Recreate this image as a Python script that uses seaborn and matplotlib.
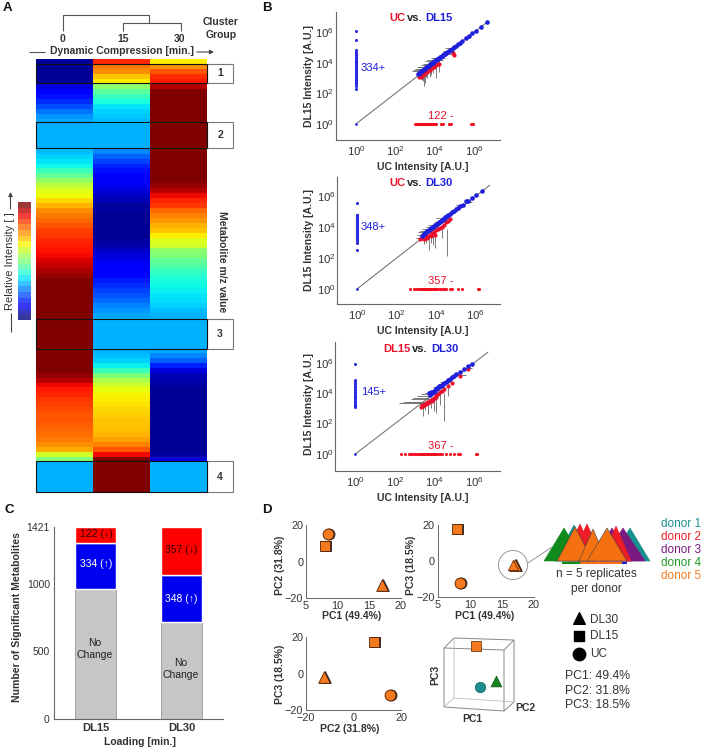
import numpy as np
import pandas as pd
import matplotlib
matplotlib.use('Agg')
import matplotlib.pyplot as plt
from matplotlib.patches import Circle, Polygon, Rectangle
import seaborn as sns

# heatmap values, one row every 5 px or so (jet scale 0-1)
heat_0 = [.02,.02,.02,.02,.02,.08,.11,.14,.17,.20,.24,.27,.29,.30,.30,.30,.30,.30,.31,.33,.35,.37,.42,.47,.53,.58,.62,.64,.68,.72,
          .76,.78,.80,.82,.84,.85,.87,.88,.89,.90,.92,.94,.96,.98,1,1,1,1,1,1,1,1,1,1,1,1,1,1,1,1,1,1,1,.98,.95,.90,.88,.87,.85,.84,
          .83,.82,.82,.81,.80,.79,.78,.76,.73,.60,.50,.30,.30,.30,.30,.30,.30]
heat_15 = [.87,.78,.76,.70,.66,.52,.46,.42,.38,.35,.33,.32,.31,.30,.30,.30,.30,.30,.26,.22,.19,.16,.14,.12,.11,.10,.08,.06,.05,.03,
           .03,.02,.02,.02,.02,.02,.03,.04,.06,.08,.10,.11,.12,.13,.15,.17,.19,.21,.23,.25,.27,.29,.30,.30,.30,.30,.30,.30,.30,.31,.33,.36,.42,.50,.56,.60,.63,.65,.66,.67,
           .68,.69,.70,.70,.71,.72,.74,.77,.82,.90,1,1,1,1,1,1,1]
heat_30 = [.66,.76,.82,.86,.88,.95,1,1,1,1,1,1,1,1,1,1,1,1,1,1,1,1,1,1,1,.98,.95,.90,.87,.85,
           .80,.77,.75,.72,.70,.66,.62,.60,.52,.50,.47,.45,.42,.40,.38,.37,.36,.35,.34,.33,.31,.30,.30,.30,.30,.30,.30,.30,.29,.26,.22,.16,.08,.05,.04,.03,.02,.02,.02,.02,
           .02,.02,.02,.02,.02,.02,.02,.02,.02,.03,.08,.30,.30,.30,.30,.30,.30]
heat_cols = ['0', '15', '30']
bar_steps = [0,.05,.1,.15,.2,.25,.3,.35,.4,.45,.5,.55,.6,.65,.7,.75,.8,.85,.9,.95,1]

# scatter panels, log10 units
p1_blue_x = [3.15,3.2,3.25,3.3,3.35,3.4,3.45,3.5,3.55,3.6,3.65,3.7,3.75,3.8,3.85,3.9,3.95,4.0,4.05,4.1,4.15,4.2,4.25,4.3,4.35,4.4,4.45,4.5,4.55,4.6,4.7,4.75,4.8,4.9,5.0,5.1,5.2,5.3,5.4,5.6,5.75,5.9,6.1,6.35,6.65]
p1_blue_y = [3.25,3.35,3.35,3.45,3.45,3.55,3.58,3.62,3.7,3.72,3.8,3.82,3.9,3.92,4.0,4.0,4.1,4.12,4.15,4.22,4.25,4.3,4.35,4.38,4.45,4.48,4.55,4.58,4.62,4.68,4.75,4.82,4.86,4.95,5.05,5.12,5.22,5.32,5.42,5.62,5.76,5.92,6.1,6.36,6.66]
p1_red_x = [3.2,3.3,3.4,3.45,3.5,3.6,3.7,3.75,3.85,3.95,4.05,4.15,4.2,4.9,5.0]
p1_red_y = [3.05,3.1,3.2,3.3,3.35,3.4,3.5,3.55,3.65,3.7,3.85,3.9,3.95,4.65,4.5]
p1_strip = [2.3,2.45,2.6,2.7,2.75,2.8,2.85,2.9,2.95,3.0,3.05,3.1,3.15,3.2,3.25,3.3,3.35,3.4,3.45,3.5,3.55,3.6,3.65,3.7,3.75,3.8,3.85,3.9,3.95,4.0,4.05,4.1,4.15,4.2,4.3,4.4,4.5,4.6,4.7,4.85,5.5,6.05]
p1_row = [3.0,3.05,3.1,3.15,3.2,3.25,3.3,3.35,3.4,3.45,3.5,3.55,3.6,3.65,3.7,3.75,3.8,3.85,3.9,3.95,4.0,4.05,4.3,4.4,4.7,4.8,5.85,5.95]
p1_h_x0 = [2.85,2.9,3.0,3.1,3.2,3.3,3.4,3.5,3.6,3.8,4.3,4.4,4.5]
p1_h_x1 = [3.4,3.5,3.6,3.7,3.9,4.0,4.1,4.2,4.4,4.5,4.9,5.0,5.0]
p1_h_y = [3.45,3.5,3.6,3.7,3.75,3.85,3.95,4.1,4.2,4.3,4.55,4.75,4.95]
p1_v_x = [3.35,3.4,3.45,3.5,3.55,3.6,3.75,3.8,3.9,4.05,4.2]
p1_v_y0 = [2.9,2.8,2.5,2.7,3.1,3.0,3.1,3.2,3.3,3.0,3.4]
p1_v_y1 = [3.4,3.3,3.5,3.6,3.6,3.7,3.8,3.8,3.9,3.9,4.2]

p2_blue_x = [3.3,3.35,3.4,3.45,3.5,3.55,3.6,3.65,3.7,3.75,3.8,3.85,3.9,3.95,4.0,4.05,4.1,4.15,4.2,4.25,4.3,4.35,4.4,4.45,4.5,4.55,4.6,4.7,4.8,4.9,5.0,5.1,5.2,5.35,5.5,5.6,5.8,6.0,6.3]
p2_blue_y = [3.4,3.5,3.55,3.6,3.65,3.72,3.75,3.82,3.85,3.92,3.95,4.0,4.05,4.12,4.15,4.2,4.28,4.32,4.35,4.42,4.45,4.52,4.55,4.62,4.65,4.7,4.75,4.85,4.95,5.05,5.15,5.2,5.35,5.45,5.65,5.7,5.9,6.05,6.35]
p2_red_x = [3.2,3.3,3.4,3.5,3.55,3.6,3.7,3.75,3.8,3.9,3.95,4.0,4.1,4.2,4.3,4.4,4.5,4.6,4.7]
p2_red_y = [3.25,3.3,3.2,3.4,3.3,3.45,3.5,3.4,3.6,3.7,3.5,3.8,3.85,3.95,4.0,4.1,4.3,4.4,4.5]
p2_strip = [2.5,3.0,3.1,3.2,3.25,3.3,3.35,3.4,3.45,3.5,3.55,3.6,3.65,3.7,3.75,3.8,3.85,3.9,3.95,4.0,4.05,4.1,4.15,4.2,4.25,4.3,4.35,4.4,4.45,4.5,4.55,4.6,4.65,4.7,4.75,4.8,5.55]
p2_row = [2.7,2.9,3.0,3.1,3.2,3.25,3.3,3.35,3.4,3.45,3.5,3.55,3.6,3.65,3.7,3.75,3.8,3.85,3.9,3.95,4.0,4.05,4.1,4.2,4.3,4.4,4.5,4.7,4.8,5.1,5.3,6.1,6.15]
p2_h_x0 = [3.0,3.05,3.1,3.2,3.3,3.5,3.6,3.9,4.0,5.0,5.5]
p2_h_x1 = [3.6,3.7,3.8,3.9,4.0,4.1,4.2,4.5,4.6,5.4,5.8]
p2_h_y = [3.3,3.5,3.65,3.75,3.9,4.0,4.1,4.35,4.6,5.4,5.6]
p2_v_x = [3.4,3.5,3.65,3.75,3.95,3.85,4.55,4.3]
p2_v_y0 = [2.9,3.0,2.5,3.0,2.65,2.85,2.1,3.3]
p2_v_y1 = [3.3,3.5,3.4,3.6,3.6,3.7,3.9,4.1]

p3_blue_x = [3.7,3.75,3.8,3.85,3.9,3.95,4.0,4.05,4.1,4.15,4.2,4.25,4.3,4.35,4.4,4.45,4.5,4.6,4.7,4.8,4.9,5.0,5.1,5.3,5.5,5.7,5.9]
p3_blue_y = [4.0,3.9,4.05,4.0,4.1,4.15,4.15,4.25,4.25,4.35,4.35,4.45,4.45,4.5,4.55,4.6,4.65,4.75,4.85,4.95,5.05,5.1,5.25,5.4,5.6,5.8,5.95]
p3_red_x = [3.3,3.35,3.4,3.45,3.5,3.55,3.6,3.65,3.7,3.75,3.8,3.85,3.9,3.95,4.0,4.05,4.1,4.2,4.3,4.4,4.5,4.7,4.9,5.3,5.7]
p3_red_y = [3.1,3.2,3.15,3.25,3.3,3.3,3.4,3.35,3.45,3.5,3.55,3.5,3.65,3.7,3.7,3.75,3.85,3.95,4.1,4.15,4.3,4.45,4.7,5.1,5.6]
p3_strip = [3.1,3.15,3.2,3.3,3.4,3.45,3.5,3.6,3.7,3.75,3.8,3.9,4.0,4.05,4.1,4.2,4.3,4.4,4.5,4.6,4.7,4.8,4.9,5.95]
p3_row = [2.3,2.5,2.7,2.8,2.9,3.0,3.1,3.2,3.25,3.3,3.35,3.4,3.45,3.5,3.55,3.6,3.65,3.7,3.75,3.8,3.85,3.9,3.95,4.0,4.1,4.2,4.3,4.4,4.6,4.8,5.0,5.2,5.3,6.1,6.15]
p3_h_x0 = [2.2,2.4,2.6,2.8,2.9,3.1,3.3,3.5,3.9,4.3,5.0,5.5]
p3_h_x1 = [3.4,3.5,3.6,3.7,3.7,3.8,4.0,4.1,4.5,4.9,5.6,5.9]
p3_h_y = [3.35,3.4,3.45,3.6,3.7,3.8,3.95,4.0,4.4,4.75,5.2,5.65]
p3_v_x = [3.4,3.5,3.65,3.8,3.95,4.05,4.5,4.3,4.7]
p3_v_y0 = [2.5,2.9,2.65,3.0,2.85,2.7,2.2,3.2,3.8]
p3_v_y1 = [3.4,3.4,3.5,3.7,3.7,3.9,4.0,4.2,4.8]

# stacked bars
loading = ['DL15', 'DL30']
no_change = [965, 716]
up_count = [334, 348]
down_count = [122, 357]

# PCA scores (UC, DL15, DL30)
pca_marks = ['o', 's', '^']
pc1 = [8.5, 8.0, 17.0]
pc2 = [15.0, 8.5, -13.0]
pc3 = [-12.0, 18.0, -2.0]
pc2_b = [15.5, 8.5, -12.5]
pc3_b = [-12.0, 17.0, -2.0]

donor_names = ['donor 1', 'donor 2', 'donor 3', 'donor 4', 'donor 5']
donor_cols = ['#1a8f8f', '#ee1c25', '#7b1a80', '#1f9a2a', '#f47a20']

W, H = 704, 750
sns.set_theme(style='white')
plt.rcParams['font.family'] = ['Liberation Sans', 'DejaVu Sans']
plt.rcParams['mathtext.fontset'] = 'custom'
plt.rcParams['mathtext.rm'] = 'Liberation Sans'
plt.rcParams['mathtext.default'] = 'regular'

fig = plt.figure(figsize=(W / 100, H / 100), dpi=100)


def px_axes(l, t, r, b):
    return fig.add_axes([l / W, 1 - b / H, (r - l) / W, (b - t) / H])


# A: heatmap
ax_h = px_axes(36, 59, 207.3, 492)
ax_cb = px_axes(18, 202, 31, 320)
heat_df = pd.DataFrame({'0': heat_0, '15': heat_15, '30': heat_30})
sns.heatmap(heat_df[heat_cols], cmap='jet', vmin=0, vmax=1, cbar=False, xticklabels=False, yticklabels=False, ax=ax_h)
sns.heatmap(np.array(bar_steps[::-1]).reshape(-1, 1), cmap='jet', vmin=0, vmax=1, cbar=False, alpha=0.78,
            xticklabels=False, yticklabels=False, ax=ax_cb)

ink = '#333333'
axis_col = '#666666'


# B: log-log scatter panels
def draw_scatter(box, xlim, ylim, blue_x, blue_y, red_x, red_y, strip, row, hx0, hx1, hy, vx, vy0, vy1):
    ax = px_axes(*box)
    ax.set_xscale('log')
    ax.set_yscale('log')
    ax.plot([1, 10 ** 6.7], [1, 10 ** 6.7], color='#666666', lw=0.7, zorder=1)
    ax.hlines(10.0 ** np.array(hy), 10.0 ** np.array(hx0), 10.0 ** np.array(hx1), color='#666666', lw=0.6, zorder=2)
    ax.vlines(10.0 ** np.array(vx), 10.0 ** np.array(vy0), 10.0 ** np.array(vy1), color='#666666', lw=0.6, zorder=2)
    sns.scatterplot(x=10.0 ** np.array(red_x), y=10.0 ** np.array(red_y), color='#e8102a', s=9, linewidth=0, ax=ax, zorder=3)
    sns.scatterplot(x=10.0 ** np.array(blue_x), y=10.0 ** np.array(blue_y), color='#1f1fdc', s=11, linewidth=0, ax=ax, zorder=4)
    sns.scatterplot(x=[1.0] * len(strip), y=10.0 ** np.array(strip), color='#2a2ae0', s=5, linewidth=0, ax=ax, zorder=4)
    sns.scatterplot(x=10.0 ** np.array(row), y=[1.0] * len(row), color='#f01020', s=5, linewidth=0, ax=ax, zorder=4)
    sns.scatterplot(x=[1.0], y=[1.0], color='#2a2ae0', s=4, linewidth=0, ax=ax, zorder=4)
    ax.set_xlim(10 ** xlim[0], 10 ** xlim[1])
    ax.set_ylim(10 ** ylim[0], 10 ** ylim[1])
    ax.set_xticks([1, 1e2, 1e4, 1e6])
    ax.set_yticks([1, 1e2, 1e4, 1e6])
    ax.set_xticklabels(['$10^{%d}$' % k for k in (0, 2, 4, 6)], fontsize=8.2, color=ink)
    ax.set_yticklabels(['$10^{%d}$' % k for k in (0, 2, 4, 6)], fontsize=8.2, color=ink)
    ax.minorticks_off()
    ax.tick_params(length=1.5, width=0.5, direction='in', color=axis_col, pad=1)
    ax.tick_params(axis='x', pad=3)
    sns.despine(ax=ax)
    for s in ['left', 'bottom']:
        ax.spines[s].set_color(axis_col)
        ax.spines[s].set_linewidth(0.8)


draw_scatter((335.7, 12, 500, 140), (-1.03, 7.31), (-1.05, 7.32), p1_blue_x, p1_blue_y, p1_red_x, p1_red_y, p1_strip, p1_row,
             p1_h_x0, p1_h_x1, p1_h_y, p1_v_x, p1_v_y0, p1_v_y1)
draw_scatter((337, 177, 500, 304), (-1.01, 7.22), (-0.97, 7.23), p2_blue_x, p2_blue_y, p2_red_x, p2_red_y, p2_strip, p2_row,
             p2_h_x0, p2_h_x1, p2_h_y, p2_v_x, p2_v_y0, p2_v_y1)
draw_scatter((335, 342, 500, 471), (-1.03, 7.31), (-1.12, 7.37), p3_blue_x, p3_blue_y, p3_red_x, p3_red_y, p3_strip, p3_row,
             p3_h_x0, p3_h_x1, p3_h_y, p3_v_x, p3_v_y0, p3_v_y1)

# C: stacked bars
ax_c = px_axes(54, 527, 223, 719)
bar_df = pd.DataFrame({'loading': loading, 'none': no_change, 'up': up_count, 'down': down_count})
sns.barplot(data=bar_df, x='loading', y='none', color='#c6c6c6', width=0.47, saturation=1, edgecolor='#888888', linewidth=0.5, ax=ax_c)
sns.barplot(data=bar_df, x='loading', y='up', bottom=bar_df['none'], color='#0000f0', width=0.47, saturation=1, ax=ax_c)
sns.barplot(data=bar_df, x='loading', y='down', bottom=bar_df['none'] + bar_df['up'], color='#ff0000', width=0.47, saturation=1, ax=ax_c)
ax_c.set_xlim(-0.48, 1.48)
ax_c.set_ylim(0, 1421)
ax_c.set_yticks([0, 500, 1000, 1421])
ax_c.set_xlabel('')
ax_c.set_ylabel('')
ax_c.tick_params(axis='y', labelsize=7.5, labelcolor=ink, length=2, width=0.6, color=axis_col, direction='in', pad=3)
ax_c.tick_params(axis='x', length=0, labelsize=8, pad=3)
for lab in ax_c.get_xticklabels():
    lab.set_fontweight('bold')
    lab.set_color(ink)
sns.despine(ax=ax_c)
for s in ['left', 'bottom']:
    ax_c.spines[s].set_color(axis_col)
    ax_c.spines[s].set_linewidth(0.8)


# D: PCA panels
def draw_pca(box, xs, ys, xlim, xticks):
    ax = px_axes(*box)
    for x, y, m in zip(xs, ys, pca_marks):
        size = {'o': 62, 's': 50, '^': 70}[m]
        sns.scatterplot(x=[x + 0.012 * (xlim[1] - xlim[0])], y=[y], marker=m, s=size, color='#3a1a50', edgecolor='#222222', linewidth=0.6, ax=ax, zorder=3, clip_on=False)
        sns.scatterplot(x=[x], y=[y], marker=m, s=size, color=donor_cols[4], edgecolor='#552200', linewidth=0.6, ax=ax, zorder=4, clip_on=False)
    ax.set_xlim(*xlim)
    ax.set_ylim(-20, 20)
    ax.set_xticks(xticks)
    ax.set_yticks([-20, 0, 20])
    ax.set_yticklabels(['\u221220', '0', '20'])
    if xticks[0] < 0:
        ax.set_xticklabels(['\u221220', '0', '20'])
    ax.tick_params(labelsize=7.8, labelcolor=ink, length=1.5, width=0.5, color=axis_col, direction='in', pad=2)
    sns.despine(ax=ax)
    for s in ['left', 'bottom']:
        ax.spines[s].set_color(axis_col)
        ax.spines[s].set_linewidth(0.7)
    return ax


draw_pca((306, 525, 400.6, 598), pc1, pc2, (5, 20), [5, 10, 15, 20])
draw_pca((437.7, 525, 534, 597), pc1, pc3, (5, 20), [5, 10, 15, 20])
draw_pca((306, 637, 401, 710), pc2_b, pc3_b, (-20, 20), [-20, 0, 20])

# overlay in pixel coords for labels and annotations
ov = fig.add_axes([0, 0, 1, 1], zorder=10)
ov.set_xlim(0, W)
ov.set_ylim(H, 0)
ov.axis('off')
ov.patch.set_alpha(0)


def txt(x, y, s, size=7.5, weight='normal', color=ink, ha='center', rot=0):
    ov.text(x, y, s, fontsize=size, fontweight=weight, color=color, ha=ha, va='center', rotation=rot, rotation_mode='anchor')


def line(xs, ys, col='#555555', lw=0.8):
    ov.plot(xs, ys, color=col, lw=lw, solid_capstyle='butt')


for s, x, y in [('A', 7, 8), ('B', 267, 8), ('C', 9, 510), ('D', 267, 510)]:
    txt(x, y, s, size=9.5, weight='bold', color='#111111')

# dendrogram
line([63, 63, 149, 149], [31, 15, 15, 22.7])
line([123, 123, 181, 181], [31, 22.7, 22.7, 31])
for s, x in [('0', 63), ('15', 123), ('30', 180)]:
    txt(x, 39, s, weight='bold')
txt(221, 22, 'Cluster', weight='bold')
txt(221, 35, 'Group', weight='bold')
txt(122, 51, 'Dynamic Compression [min.]', weight='bold')
line([29, 45], [52, 52])
ov.annotate('', xy=(214, 52), xytext=(197, 52), arrowprops=dict(arrowstyle='-|>', color='#444444', lw=0.8, mutation_scale=6, shrinkA=0, shrinkB=0))

# cluster boxes
for k, (t, b) in enumerate([(64, 83), (122, 148), (319, 349), (461, 492)]):
    ov.add_patch(Rectangle((207.3, t), 26, b - t, fill=False, ec='#777777', lw=0.8))
    ov.add_patch(Rectangle((36, t), 171.3, b - t, fill=False, ec='#111111', lw=0.8))
    txt(220, (t + b) / 2, str(k + 1), weight='bold')
txt(222, 262, 'Metabolite m/z value', size=7.5, weight='bold', rot=-90)
txt(10, 261, 'Relative Intensity [ ]', size=8, rot=90)
line([10.5, 10.5], [313, 332], col='#444444')
ov.annotate('', xy=(10.5, 192), xytext=(10.5, 209), arrowprops=dict(arrowstyle='-|>', color='#444444', lw=0.8, mutation_scale=6, shrinkA=0, shrinkB=0))

# B labels
red, blue = '#e8102a', '#1f1fdc'
for lead, y0, xs in [('UC', 18, (389, 407, 425)), ('UC', 183, (389, 407, 425)), ('DL15', 349, (383, 412, 431))]:
    tail = 'DL30' if y0 > 20 else 'DL15'
    txt(xs[0], y0, lead, size=8, weight='bold', color=red, ha='left')
    txt(xs[1], y0, 'vs.', size=8, weight='bold', color='#222222', ha='left')
    txt(xs[2], y0, tail, size=8, weight='bold', color=blue, ha='left')
for y_c, y_u, y_l, up, down, y_d in [(76, 167, 68, '334+', '122 -', 116), (240, 331, 227, '348+', '357 -', 281), (404, 498, 392, '145+', '367 -', 446)]:
    txt(309, y_c, 'DL15 Intensity [A.U.]', size=7.5, weight='bold', rot=90)
    txt(423, y_u, 'UC Intensity [A.U.]', size=7.5, weight='bold')
    txt(361, y_l, up, size=8, color=blue, ha='left')
    txt(428, y_d, down, size=8, color=red, ha='left')

# C labels
txt(17, 617, 'Number of Significant Metabolites', size=7.6, weight='bold', rot=90)
txt(140, 742, 'Loading [min.]', size=7.5, weight='bold')
txt(96, 534, '122 (\u2193)', size=7.5, color='#300000')
txt(96, 564, '334 (\u2191)', size=7.5, color='white')
txt(95, 643, 'No', size=7.5, color='#222222')
txt(95, 655, 'Change', size=7.5, color='#222222')
txt(181, 550, '357 (\u2193)', size=7.5, color='#300000')
txt(181, 599, '348 (\u2191)', size=7.5, color='white')
txt(181, 663, 'No', size=7.5, color='#222222')
txt(181, 675, 'Change', size=7.5, color='#222222')

# D labels
txt(352, 616, 'PC1 (49.4%)', size=7.5, weight='bold')
txt(485, 616, 'PC1 (49.4%)', size=7.5, weight='bold')
txt(350, 729, 'PC2 (31.8%)', size=7.5, weight='bold')
txt(280, 565, 'PC2 (31.8%)', size=7.5, weight='bold', rot=90)
txt(411, 565, 'PC3 (18.5%)', size=7.5, weight='bold', rot=90)
txt(280, 674, 'PC3 (18.5%)', size=7.5, weight='bold', rot=90)

# 3D box
cube_col = '#888888'
line([444, 454, 514, 504, 444], [648, 638, 640, 650, 648], cube_col, 0.7)
line([444, 444, 504, 504], [648, 707, 711, 650], cube_col, 0.7)
line([504, 514, 514], [711, 702, 640], cube_col, 0.7)
line([454, 454, 514], [638, 698, 702], '#bbbbbb', 0.6)
line([444, 454], [707, 698], '#bbbbbb', 0.6)
ov.scatter([476], [646], marker='s', s=42, color=donor_cols[4], edgecolor='#552200', linewidth=0.5, zorder=5)
ov.scatter([480], [687], marker='o', s=55, color=donor_cols[0], edgecolor='#0d5050', linewidth=0.5, zorder=5)
ov.scatter([496], [681], marker='^', s=60, color='#14861f', edgecolor='#0d5010', linewidth=0.5, zorder=5)
txt(435, 675, 'PC3', size=7.5, weight='bold', rot=90)
txt(472, 719, 'PC1', size=7.5, weight='bold')
txt(525, 708, 'PC2', size=7.5, weight='bold')

# callout and stacked replicates
ov.add_patch(Circle((513, 565), 14.5, fill=False, ec='#888888', lw=0.6))
line([528, 552], [563, 547], '#888888', 0.6)
tri_apex_x = [574, 630, 623, 612, 580, 587, 616, 564, 575, 593, 607]
tri_apex_y = [525, 528, 528, 528, 524, 524, 526, 528, 527, 529, 528]
tri_half = [20, 20, 22, 20, 17, 17, 15, 20, 18, 14, 20]
tri_fill = [donor_cols[0], donor_cols[0], donor_cols[2], donor_cols[2], donor_cols[1], donor_cols[1], donor_cols[1], '#118a1c', '#f47010', '#f47010', '#f47010']
for ax_x, ax_y, hw, c in zip(tri_apex_x, tri_apex_y, tri_half, tri_fill):
    ov.add_patch(Polygon([(ax_x, ax_y), (ax_x - hw, 561), (ax_x + hw, 561)], closed=True, fc=c, ec='#444444' if c == '#f47010' else c, lw=0.4))
ov.scatter([513], [565], marker='^', s=55, color=donor_cols[4], edgecolor='#552200', linewidth=0.5, zorder=5)
line([562, 580], [562.5, 562.5], '#118a1c', 1.5)
line([580, 622], [562.5, 562.5], '#f47010', 1.5)
line([622, 627], [562.5, 562.5], '#1f1fdc', 1.5)
txt(596, 574, 'n = 5 replicates', size=8.6)
txt(596, 589, 'per donor', size=8.6)
for k, (name, c) in enumerate(zip(donor_names, donor_cols)):
    txt(661, 524 + 12.9 * k, name, size=8.5, color=c, ha='left')
ov.scatter([579], [618], marker='^', s=70, color='black')
ov.scatter([579], [636], marker='s', s=60, color='black')
ov.scatter([579], [654], marker='o', s=80, color='black')
for s, y in [('DL30', 620), ('DL15', 636), ('UC', 654)]:
    txt(590, y, s, size=8.5, ha='left')
for s, y in [('PC1: 49.4%', 676), ('PC2: 31.8%', 691), ('PC3: 18.5%', 705)]:
    txt(565, y, s, size=8.8, ha='left')

fig.savefig('out.png', dpi=100)
